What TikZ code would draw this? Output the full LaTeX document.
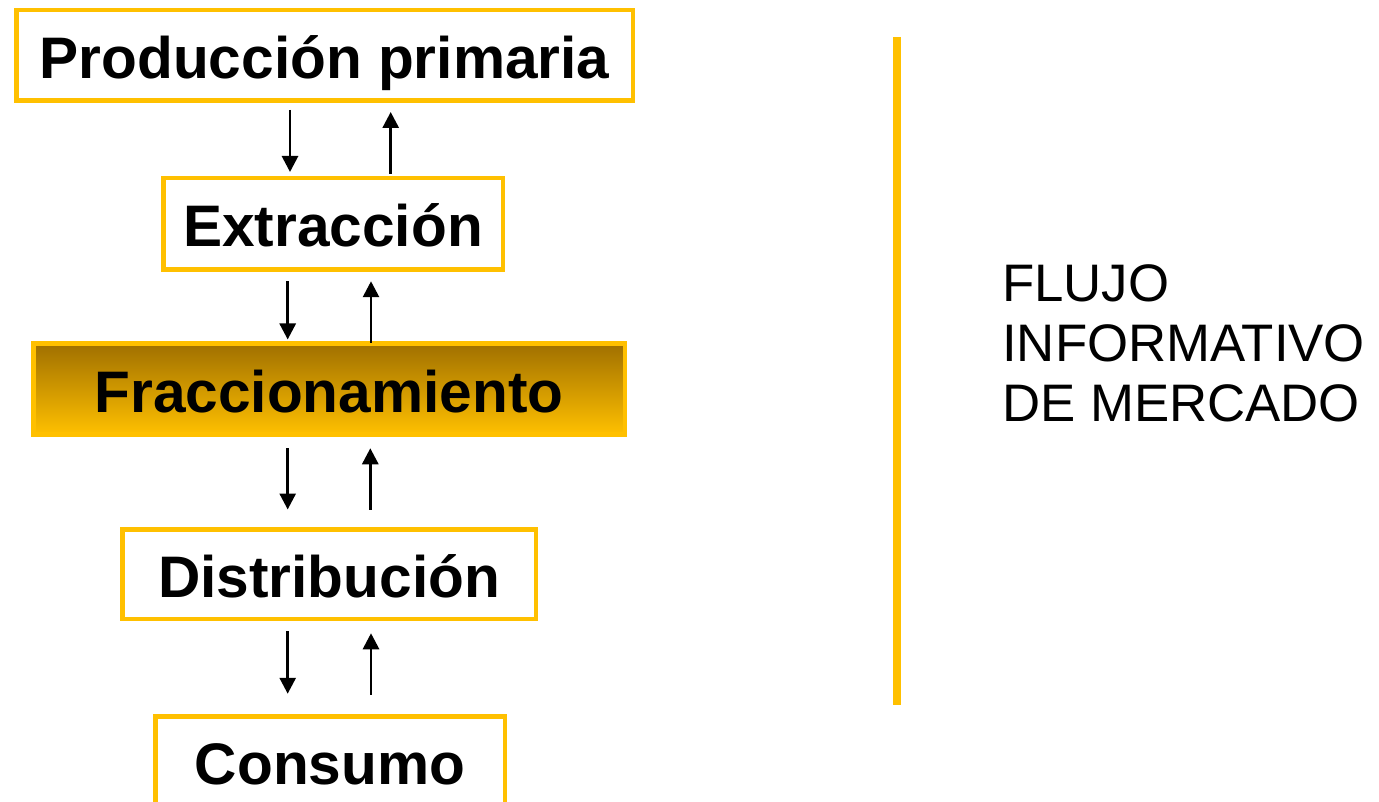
\documentclass[tikz,border=0pt]{standalone}
\usepackage{fontspec}
\setmainfont{Liberation Sans}
\usetikzlibrary{arrows.meta}
\definecolor{ambar}{RGB}{255,192,0}
\definecolor{ambardark}{RGB}{160,112,0}
\tikzstyle{arrow} = [line width=2.8pt, -{Triangle[width=16pt,length=16pt]}]
\tikzstyle{stage} = [rectangle, draw=ambar, line width=4.5pt, fill=white, inner sep=0pt, text height=46pt, text depth=0pt, font=\fontsize{58.6}{70}\selectfont\bfseries]

\begin{document}
\begin{tikzpicture}[x=1pt, y=-1pt,
        keystage/.style={stage, top color=ambardark, bottom color=ambar},
        sepline/.style={draw=ambar, line width=8.3pt},
        infotext/.style={anchor=west, align=left, inner sep=0pt, font=\fontsize{52.8}{60}\selectfont}]

    \useasboundingbox (0,0) rectangle (1379,802);

    \node [stage, minimum width=616.5pt, minimum height=90.5pt] (produccion) at (324.5,55.5) {Producción primaria};
    \node [stage, minimum width=339.5pt, minimum height=91.5pt] (extraccion) at (333,224) {Extracción};
    \node [keystage, minimum width=591.5pt, minimum height=90.5pt] (fraccion) at (329,389) {Fraccionamiento};
    \node [stage, minimum width=413.5pt, minimum height=89.5pt] (distribucion) at (329,574) {Distribución};
    \node [stage, minimum width=349.5pt, minimum height=89.5pt] (consumo) at (330,761) {Consumo};

    \coordinate (septop) at (897,37);
    \coordinate (sepbot) at (897,705);
    \draw[sepline] (septop) -- (sepbot);
    \node [infotext] (flujo) at (1002,343) {FLUJO\\INFORMATIVO\\DE MERCADO};

    \draw[arrow] ([xshift=-34.5pt, yshift=-7pt]produccion.south) -- ([xshift=-43pt, yshift=4pt]extraccion.north);
    \draw[arrow] ([xshift=57.7pt, yshift=2pt]extraccion.north) -- ([xshift=66.2pt, yshift=-9pt]produccion.south);
    \draw[arrow] ([xshift=-45.3pt, yshift=-9.25pt]extraccion.south) -- ([xshift=-41.3pt, yshift=2pt]fraccion.north);
    \draw[arrow] ([xshift=42pt, yshift=-1.25pt]fraccion.north) -- ([xshift=38pt, yshift=-9.25pt]extraccion.south);
    \draw[arrow] ([xshift=-41.3pt, yshift=-11.5pt]fraccion.south) -- ([xshift=-41.3pt, yshift=17.5pt]distribucion.north);
    \draw[arrow] ([xshift=41.3pt, yshift=17.25pt]distribucion.north) -- ([xshift=41.3pt, yshift=-11.75pt]fraccion.south);
    \draw[arrow] ([xshift=-41.3pt, yshift=-10.25pt]distribucion.south) -- ([xshift=-42.3pt, yshift=20.25pt]consumo.north);
    \draw[arrow] ([xshift=41pt, yshift=19.25pt]consumo.north) -- ([xshift=42pt, yshift=-12.25pt]distribucion.south);
\end{tikzpicture}
\end{document}
